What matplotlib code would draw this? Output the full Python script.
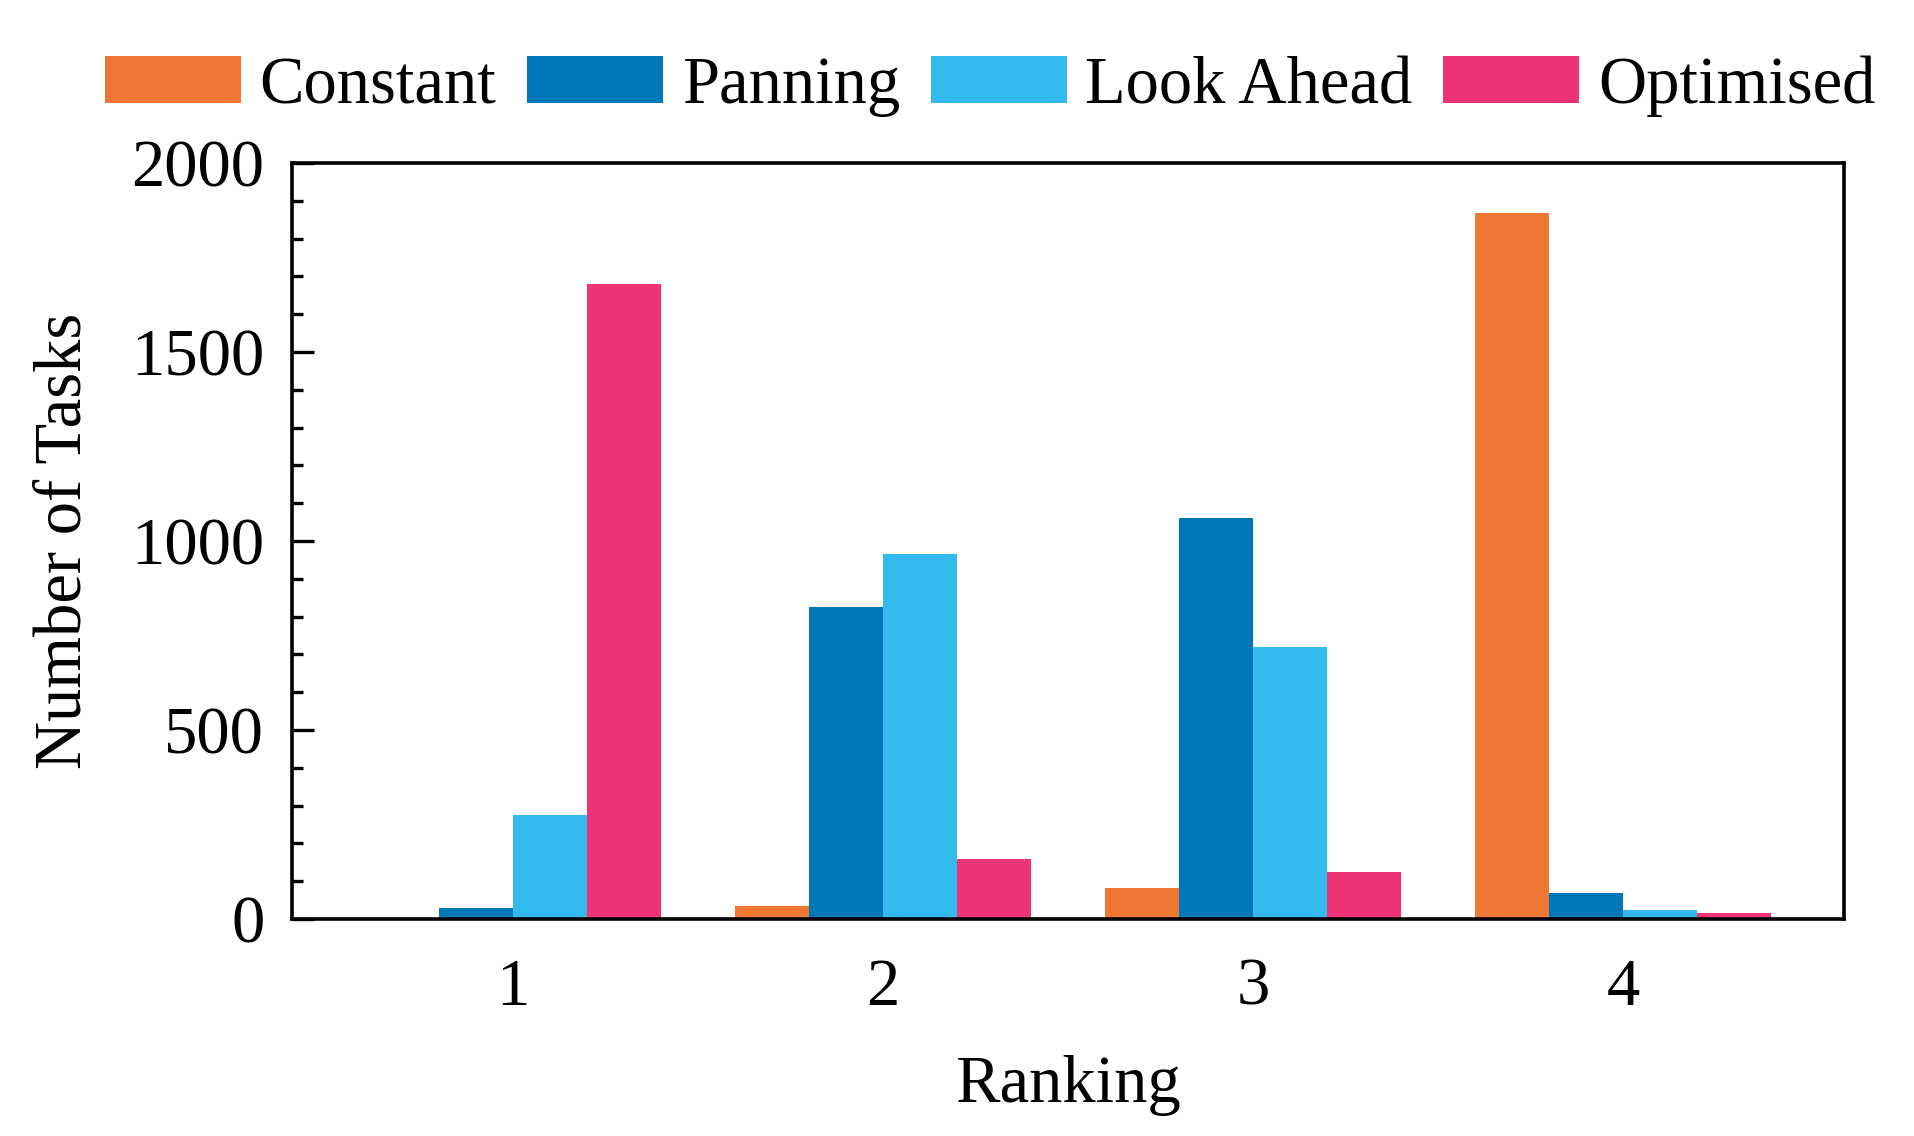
import matplotlib
matplotlib.use("Agg")
import matplotlib.pyplot as plt
import numpy as np
from matplotlib.ticker import MultipleLocator

plt.rcParams['font.family'] = ['Liberation Serif', 'DejaVu Serif']

rankings = [1, 2, 3, 4]
series = ["Constant", "Panning", "Look Ahead", "Optimised"]
constant = [4, 35, 81, 1868]
panning = [29, 825, 1062, 69]
look_ahead = [274, 966, 720, 23]
optimised = [1680, 160, 124, 17]
colors = ["#EE7733", "#0077BB", "#33BBEE", "#EE3377"]

values = [constant, panning, look_ahead, optimised]

FS = 48

fig = plt.figure(figsize=(19.15, 11.36), dpi=100)
ax = fig.add_axes([0.1525, 0.191, 0.8105, 0.6655])

width = 0.2
x = np.array(rankings, dtype=float)
for i, (name, vals, c) in enumerate(zip(series, values, colors)):
    ax.bar(x + (i - 1.5) * width, vals, width=width, color=c, label=name, linewidth=0)

ax.set_xlim(0.403, 4.597)
ax.set_ylim(0, 2000)
ax.set_xticks(rankings)
ax.set_xticklabels([str(r) for r in rankings])
ax.yaxis.set_major_locator(MultipleLocator(500))
ax.yaxis.set_minor_locator(MultipleLocator(100))

for s in ax.spines.values():
    s.set_linewidth(2.6)

ax.tick_params(axis='y', which='major', direction='in', length=16, width=2.4, labelsize=FS, pad=20)
ax.tick_params(axis='y', which='minor', direction='in', length=8, width=2.4)
ax.tick_params(axis='x', which='both', length=0, labelsize=FS, pad=28)

ax.set_xlabel("Ranking", fontsize=FS, labelpad=26)
ax.set_ylabel("Number of Tasks", fontsize=FS, labelpad=26)

fig.legend(loc='center', bbox_to_anchor=(0.517, 0.924), ncol=4, frameon=False,
           fontsize=FS, handlelength=2.04, handleheight=0.7, handletextpad=0.28,
           columnspacing=0.46, borderaxespad=0, borderpad=0)

fig.savefig("out.png", dpi=100)
